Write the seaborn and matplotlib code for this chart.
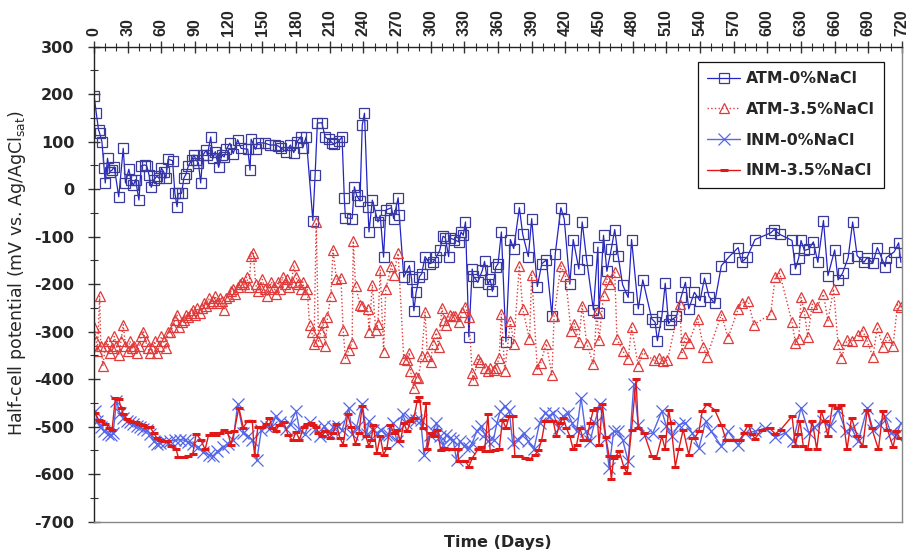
import matplotlib
matplotlib.use("Agg")
import matplotlib.pyplot as plt
from matplotlib.ticker import MultipleLocator
import pandas as pd
import seaborn as sns

# ATM-0% NaCl (blue squares)
atm0_day = [0, 2, 4, 5, 7, 9, 10, 12, 14, 16, 18, 22, 26, 28, 31, 33, 35, 37, 40, 42,
            45, 47, 49, 51, 53, 56, 58, 60, 62, 64, 66, 70, 72, 74, 75, 78, 80, 82, 84, 87,
            89, 91, 93, 95, 97, 100, 101, 104, 106, 108, 111, 114, 116, 118, 121, 124, 128, 131, 137, 139,
            140, 144, 146, 152, 157, 161, 164, 167, 171, 175, 178, 181, 184, 186, 189, 195, 197, 199, 203, 206,
            209, 212, 214, 218, 221, 223, 224, 230, 232, 234, 237, 239, 241, 244, 245, 248, 253, 255, 258, 260,
            265, 267, 271, 272, 276, 281, 283, 285, 287, 290, 292, 295, 299, 302, 305, 308, 311, 313, 316, 317,
            321, 325, 327, 329, 331, 334, 337, 338, 342, 346, 348, 351, 353, 355, 358, 360, 363, 367, 371, 374,
            379, 382, 387, 390, 395, 399, 403, 408, 411, 416, 419, 424, 427, 432, 435, 439, 445, 449, 450, 454,
            457, 461, 464, 467, 471, 476, 479, 485, 489, 497, 500, 502, 506, 509, 512, 514, 519, 523, 527, 530,
            535, 540, 544, 548, 553, 559, 566, 574, 577, 582, 589, 603, 606, 611, 622, 625, 628, 630, 633, 637,
            641, 645, 650, 654, 660, 663, 667, 672, 676, 680, 686, 689, 694, 698, 705, 706, 713, 717, 719]
atm0_mv = [197, 160, 125, 118, 100, 44, 13, 65, 37, 40, 47, -16, 86, 13, 42, 19, 8, 20, -23, 49,
           51, 49, 30, 4, 19, 27, 23, 44, 37, 23, 63, 60, -8, -37, -9, -9, 23, 32, 49, 61,
           72, 61, 56, 13, 72, 82, 72, 110, 65, 79, 46, 72, 68, 84, 97, 75, 104, 86, 84, 40,
           105, 84, 98, 97, 93, 93, 91, 86, 79, 93, 77, 100, 110, 87, 110, -66, 30, 139, 140, 109,
           105, 98, 95, 101, 110, -18, -60, -62, 5, -13, -25, 135, 160, -37, -90, -23, -69, -55, -143, -44,
           -39, -62, -18, -55, -185, -161, -189, -256, -217, -184, -178, -142, -157, -154, -143, -129, -99, -102, -142, -103,
           -106, -111, -90, -97, -69, -311, -168, -183, -196, -171, -152, -200, -190, -215, -164, -157, -90, -321, -106, -125,
           -39, -95, -142, -62, -205, -157, -149, -266, -136, -39, -63, -200, -106, -168, -69, -149, -254, -122, -261, -97,
           -173, -125, -85, -140, -201, -228, -106, -252, -191, -273, -280, -319, -268, -198, -283, -276, -268, -228, -196, -252,
           -217, -235, -187, -226, -240, -161, -142, -123, -154, -143, -106, -92, -85, -95, -108, -168, -144, -108, -129, -126,
           -111, -154, -66, -182, -128, -191, -177, -144, -69, -140, -154, -144, -156, -123, -163, -144, -132, -113, -154]

# ATM-3.5% NaCl (red triangles)
atm35_day = [0, 2, 3, 5, 6, 8, 10, 12, 14, 16, 18, 20, 22, 24, 26, 28, 30, 32, 34, 36,
             38, 40, 42, 44, 46, 48, 50, 52, 54, 56, 58, 60, 62, 64, 66, 68, 70, 72, 74, 76,
             78, 80, 82, 84, 86, 88, 90, 92, 94, 96, 98, 100, 102, 104, 106, 108, 110, 112, 114, 116,
             118, 120, 122, 124, 126, 128, 130, 132, 134, 136, 138, 140, 142, 144, 146, 148, 150, 152, 154, 156,
             158, 160, 162, 164, 166, 168, 170, 172, 174, 176, 178, 180, 182, 184, 186, 188, 190, 192, 194, 196,
             198, 200, 202, 204, 206, 208, 211, 213, 216, 220, 222, 224, 227, 230, 231, 233, 237, 239, 244, 245,
             248, 251, 253, 255, 258, 260, 265, 267, 271, 276, 279, 281, 282, 285, 287, 289, 292, 295, 297, 300,
             302, 305, 307, 310, 312, 314, 317, 320, 322, 325, 328, 331, 334, 337, 338, 342, 344, 348, 351, 353,
             356, 358, 361, 363, 366, 371, 374, 379, 382, 388, 390, 395, 398, 403, 408, 410, 416, 420, 425, 428,
             432, 435, 439, 445, 448, 450, 454, 457, 460, 464, 466, 471, 476, 479, 485, 489, 499, 503, 507, 511,
             522, 524, 527, 530, 538, 543, 546, 559, 565, 574, 577, 583, 588, 603, 607, 611, 622, 625, 628, 630,
             633, 636, 640, 644, 650, 654, 659, 663, 666, 671, 675, 681, 685, 689, 694, 698, 703, 707, 712, 716, 719]
atm35_mv = [-290, -320, -340, -225, -330, -372, -330, -320, -345, -335, -310, -330, -350, -320, -285, -330, -340, -320, -335, -330,
            -345, -330, -310, -300, -320, -335, -345, -335, -320, -345, -330, -310, -320, -335, -300, -300, -290, -275, -265, -290,
            -280, -275, -265, -270, -260, -255, -265, -250, -260, -250, -240, -245, -230, -240, -235, -225, -240, -230, -235, -255,
            -230, -225, -215, -210, -220, -205, -200, -195, -200, -185, -205, -140, -135, -200, -215, -205, -190, -210, -225, -210,
            -195, -205, -220, -195, -210, -185, -200, -190, -205, -195, -160, -185, -200, -210, -195, -220, -210, -285, -300, -325,
            -70, -320, -300, -280, -330, -270, -224, -128, -189, -186, -297, -356, -339, -323, -109, -203, -243, -245, -252, -300,
            -201, -297, -283, -170, -342, -210, -161, -180, -135, -358, -360, -344, -383, -419, -395, -397, -351, -259, -351, -363,
            -325, -302, -332, -250, -275, -285, -264, -266, -266, -280, -259, -247, -270, -386, -402, -358, -363, -376, -383, -376,
            -380, -376, -356, -263, -383, -278, -325, -161, -252, -316, -180, -379, -366, -325, -391, -266, -161, -182, -298, -283,
            -321, -245, -325, -369, -259, -318, -222, -189, -199, -175, -316, -340, -358, -291, -372, -344, -360, -355, -362, -360,
            -242, -344, -311, -323, -273, -332, -353, -264, -313, -252, -240, -236, -285, -263, -184, -177, -280, -323, -316, -228,
            -259, -311, -242, -249, -221, -277, -210, -326, -355, -318, -320, -307, -298, -320, -353, -291, -332, -312, -330, -243, -249]

# INM-0% NaCl (blue crosses)
inm0_day = [1, 3, 6, 9, 12, 15, 17, 20, 23, 26, 29, 32, 35, 38, 41, 44, 47, 50, 53, 56,
            59, 64, 68, 72, 77, 81, 84, 88, 93, 97, 102, 106, 110, 115, 119, 124, 128, 133, 137, 141,
            145, 149, 153, 158, 162, 166, 171, 175, 180, 183, 188, 192, 197, 201, 205, 209, 213, 217, 221, 227,
            230, 234, 239, 243, 245, 249, 252, 256, 260, 263, 266, 270, 275, 278, 282, 287, 291, 294, 299, 302,
            305, 308, 311, 314, 317, 320, 323, 326, 330, 334, 337, 341, 345, 348, 351, 356, 359, 362, 366, 370,
            373, 378, 383, 387, 392, 397, 402, 405, 409, 414, 418, 422, 426, 430, 434, 438, 442, 446, 451, 456,
            459, 463, 467, 471, 476, 481, 485, 491, 498, 506, 510, 515, 521, 527, 533, 539, 545, 550, 559, 565,
            574, 580, 589, 598, 607, 616, 623, 630, 637, 642, 650, 656, 663, 670, 675, 681, 689, 694, 700, 705,
            710, 715, 719]
inm0_mv = [-467, -487, -501, -510, -515, -518, -513, -446, -471, -481, -487, -490, -494, -498, -501, -505, -508, -515, -530, -536,
           -534, -532, -530, -529, -527, -529, -532, -536, -543, -553, -559, -562, -552, -543, -536, -529, -452, -513, -520, -527,
           -571, -508, -498, -501, -478, -490, -505, -494, -467, -505, -515, -490, -505, -520, -498, -513, -501, -498, -508, -460,
           -515, -501, -452, -515, -488, -506, -513, -506, -517, -517, -492, -531, -474, -492, -481, -485, -485, -559, -517, -510,
           -492, -520, -538, -517, -524, -527, -570, -531, -541, -545, -534, -510, -499, -515, -531, -527, -492, -467, -457, -467,
           -534, -527, -513, -531, -548, -492, -471, -478, -471, -503, -478, -471, -492, -510, -439, -510, -531, -492, -453, -524,
           -587, -510, -510, -527, -573, -411, -496, -517, -513, -467, -499, -520, -496, -492, -513, -545, -489, -510, -541, -510,
           -538, -513, -510, -503, -522, -513, -531, -460, -513, -501, -489, -499, -464, -510, -503, -531, -460, -506, -496, -478,
           -513, -517, -492]

# INM-3.5% NaCl (red bars)
inm35_day = [1, 4, 6, 10, 13, 16, 19, 22, 24, 26, 29, 32, 35, 37, 40, 44, 47, 50, 53, 56,
             59, 62, 65, 69, 73, 75, 80, 84, 88, 91, 95, 99, 102, 106, 109, 112, 116, 119, 122, 125,
             129, 133, 137, 141, 143, 146, 150, 153, 156, 159, 162, 165, 169, 173, 177, 180, 183, 187, 190, 193,
             195, 198, 200, 203, 206, 210, 213, 216, 219, 222, 226, 229, 233, 236, 239, 242, 245, 247, 249, 252,
             255, 258, 261, 264, 267, 270, 273, 276, 279, 282, 285, 288, 290, 293, 296, 297, 300, 303, 306, 309,
             312, 315, 318, 321, 324, 325, 328, 331, 334, 337, 342, 345, 348, 351, 353, 357, 361, 364, 367, 370,
             373, 375, 379, 384, 388, 393, 396, 399, 402, 405, 409, 412, 415, 418, 421, 424, 427, 430, 433, 436,
             439, 442, 445, 448, 450, 453, 456, 459, 461, 463, 465, 468, 472, 475, 479, 483, 485, 490, 497, 501,
             506, 509, 512, 514, 518, 521, 525, 530, 533, 535, 539, 542, 546, 553, 559, 563, 567, 570, 576, 579,
             583, 586, 589, 595, 602, 607, 612, 622, 625, 627, 629, 632, 636, 640, 644, 648, 651, 654, 658, 662,
             666, 671, 675, 680, 685, 689, 693, 699, 703, 707, 712, 715, 718]
inm35_mv = [-471, -485, -487, -494, -502, -508, -439, -442, -460, -473, -483, -487, -490, -490, -494, -497, -500, -501, -513, -524,
            -529, -530, -531, -541, -546, -564, -564, -562, -557, -515, -527, -548, -518, -513, -518, -513, -506, -511, -538, -509,
            -460, -502, -487, -487, -559, -500, -500, -494, -481, -502, -509, -496, -490, -518, -529, -511, -527, -500, -494, -492,
            -496, -500, -513, -520, -509, -523, -513, -494, -523, -538, -474, -500, -536, -513, -456, -520, -541, -527, -496, -556,
            -520, -559, -545, -496, -513, -506, -531, -492, -510, -488, -481, -446, -437, -503, -450, -548, -513, -520, -506, -550,
            -545, -546, -546, -548, -546, -572, -572, -573, -584, -566, -548, -543, -552, -474, -552, -550, -548, -485, -503, -478,
            -478, -562, -562, -565, -569, -559, -550, -527, -487, -487, -487, -520, -492, -481, -503, -520, -548, -538, -503, -527,
            -527, -492, -464, -460, -538, -453, -522, -562, -611, -566, -562, -552, -584, -598, -506, -400, -503, -513, -562, -566,
            -520, -548, -464, -492, -584, -548, -506, -559, -524, -524, -510, -467, -453, -464, -496, -527, -527, -527, -527, -513,
            -496, -515, -525, -506, -503, -515, -506, -478, -540, -515, -487, -541, -548, -487, -548, -467, -489, -520, -455, -460,
            -455, -548, -481, -520, -541, -464, -503, -548, -467, -506, -543, -510, -524]

series = [
    ("ATM-0%NaCl", atm0_day, atm0_mv,
     dict(color="#2323c8", marker="s", markersize=7, markerfacecolor="none",
          markeredgecolor="#3a3a9a", markeredgewidth=0.9, linewidth=0.9)),
    ("ATM-3.5%NaCl", atm35_day, atm35_mv,
     dict(color="#e03a3a", marker="^", markersize=7, markerfacecolor="none",
          markeredgecolor="#e03a3a", markeredgewidth=0.9, linewidth=1.0, linestyle=":")),
    ("INM-0%NaCl", inm0_day, inm0_mv,
     dict(color="#5566e8", marker="x", markersize=8, markeredgecolor="#5566e8",
          markeredgewidth=0.9, linewidth=1.0)),
    ("INM-3.5%NaCl", inm35_day, inm35_mv,
     dict(color="#e01818", marker="_", markersize=6, markeredgecolor="#e01818",
          markeredgewidth=2.2, linewidth=1.0)),
]

sns.set_style("white")
plt.rcParams["font.family"] = ["DejaVu Sans"]
plt.rcParams["axes.unicode_minus"] = False

fig = plt.figure(figsize=(9.06, 5.53), dpi=100)
ax = fig.add_axes([0.1038, 0.0566, 0.8918, 0.859])

for name, days, mv, style in series:
    df = pd.DataFrame({"Day": days, "mV": mv})
    sns.lineplot(data=df, x="Day", y="mV", ax=ax, estimator=None, sort=False,
                 label=name, **style)

ax.set_xlim(0, 720)
ax.set_ylim(-700, 300)
ax.xaxis.set_major_locator(MultipleLocator(30))
ax.xaxis.set_minor_locator(MultipleLocator(10))
ax.yaxis.set_major_locator(MultipleLocator(100))
ax.yaxis.set_minor_locator(MultipleLocator(50))

ax.xaxis.tick_top()
ax.xaxis.set_label_position("bottom")
ax.tick_params(axis="x", which="both", top=True, bottom=False, labeltop=True,
               labelbottom=False, direction="inout", color="#333333")
ax.tick_params(axis="x", which="major", length=8, width=1, pad=4, labelrotation=90)
ax.tick_params(axis="x", which="minor", length=6, width=0.8)
ax.tick_params(axis="y", which="both", left=True, direction="inout", color="#333333")
ax.tick_params(axis="y", which="major", length=8, width=1, pad=10)
ax.tick_params(axis="y", which="minor", length=6, width=0.8)
for lab in ax.get_xticklabels():
    lab.set_fontfamily("Liberation Sans")
    lab.set_fontweight("bold")
    lab.set_fontsize(11.5)
for lab in ax.get_yticklabels():
    lab.set_fontfamily("DejaVu Sans")
    lab.set_fontweight("bold")
    lab.set_fontsize(11.5)

for side in ["left", "top"]:
    ax.spines[side].set_color("#222222")
    ax.spines[side].set_linewidth(1.0)
for side in ["bottom", "right"]:
    ax.spines[side].set_color("#888888")
    ax.spines[side].set_linewidth(1.0)

ax.set_xlabel("Time (Days)", fontsize=11.5, fontweight="bold")
ax.xaxis.set_label_coords(0.5, -0.028)
ax.xaxis.label.set_va("top")
ax.set_ylabel(r"Half-cell potential (mV vs. Ag/AgCl$_{\mathrm{sat}}$)", fontsize=12.5)
ax.yaxis.set_label_coords(-0.082, 0.523)

handles, labels = ax.get_legend_handles_labels()
leg = ax.legend(handles, labels, loc="upper right", bbox_to_anchor=(0.978, 0.968),
                borderaxespad=0, frameon=True, fancybox=False, edgecolor="#111111",
                framealpha=1, prop={"family": "DejaVu Sans", "weight": "bold", "size": 11.3},
                handlelength=2.1, labelspacing=1.0, borderpad=0.6, handletextpad=0.35)
leg.get_frame().set_linewidth(0.9)

fig.savefig("out.png", dpi=100)
